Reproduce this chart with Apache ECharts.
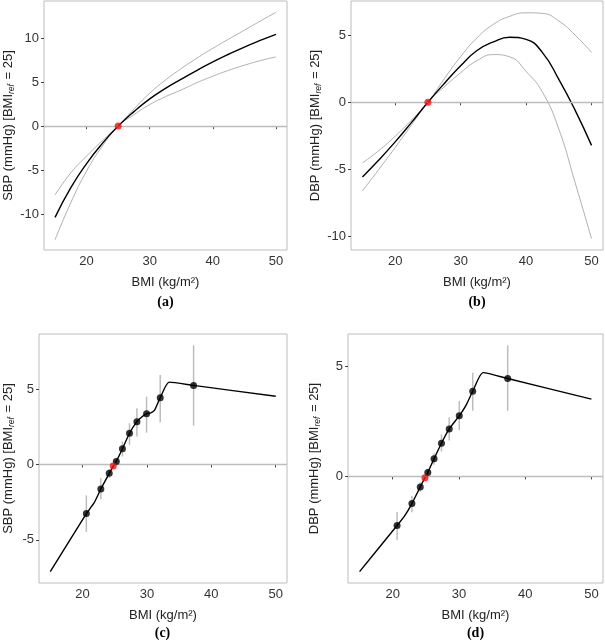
<!DOCTYPE html>
<html>
<head>
<meta charset="utf-8">
<script src="https://cdn.jsdelivr.net/npm/echarts@6/dist/echarts.min.js"></script>
<style>
  html, body { margin: 0; padding: 0; background: #fff; }
  #chart { width: 605px; height: 643px; }
</style>
</head>
<body>
<div id="chart"></div>
<script>
// BMI 取值点 (a)(b) 曲线
const bmiGrid = [15, 17.5, 20, 22.5, 25, 27.5, 30, 32.5, 35, 37.5, 40, 42.5, 45, 47.5, 50]

// (a) SBP 拟合曲线及置信带
const sbpFit   = [-10.39, -7.01, -4.26, -1.96, 0, 1.65, 3.1, 4.3, 5.35, 6.35, 7.3, 8.18, 9.0, 9.75, 10.45]
const sbpUpper = [-7.84, -5.31, -3.41, -1.66, 0, 1.95, 3.75, 5.25, 6.55, 7.75, 8.85, 9.9, 10.92, 11.95, 12.95]
const sbpLower = [-12.94, -8.71, -5.11, -2.26, 0, 1.3, 2.45, 3.35, 4.12, 4.95, 5.68, 6.35, 6.93, 7.45, 7.88]

// (b) DBP 拟合曲线及置信带
const dbpFit   = [-5.56, -4.3, -2.95, -1.5, 0, 1.4, 2.72, 3.85, 4.5, 4.84, 4.68, 3.7, 1.7, -0.6, -3.21]
const dbpUpper = [-4.52, -3.6, -2.53, -1.32, 0, 1.75, 3.4, 4.8, 5.8, 6.4, 6.66, 6.62, 6.05, 5.0, 3.71]
const dbpLower = [-6.6, -5.0, -3.37, -1.68, 0, 1.15, 2.2, 3.1, 3.55, 3.38, 2.3, 0.75, -2.0, -6.0, -10.16]

// (c) SBP 样条曲线
const sbpSplineX = [15, 20.6, 21.8, 22.85, 24.15, 24.8, 25.25, 26.2, 27.3, 28.45, 29.2, 29.95, 30.6, 31.2, 32.07, 33.47, 37.25, 50]
const sbpSplineY = [-7.11, -3.26, -2.55, -1.63, -0.59, -0.09, 0.2, 1.04, 2.07, 2.84, 3.15, 3.37, 3.42, 3.6, 4.43, 5.46, 5.24, 4.52]
// (c) 分组均值和误差线
const sbpGroupX  = [20.6, 22.85, 24.15, 25.25, 26.2, 27.3, 28.45, 29.95, 32.07, 37.25]
const sbpGroupY  = [-3.26, -1.63, -0.59, 0.2, 1.04, 2.07, 2.84, 3.37, 4.43, 5.24]
const sbpGroupLo = [-4.47, -2.33, -0.9, -0.05, 0.53, 1.3, 1.85, 2.11, 2.8, 2.58]
const sbpGroupHi = [-2.05, -0.9, -0.3, 0.45, 1.52, 2.73, 3.72, 4.49, 5.93, 7.9]
const sbpRef = [24.77, -0.1]

// (d) DBP 样条曲线
const dbpSplineX = [15, 20.66, 21.8, 22.9, 24.16, 24.87, 25.3, 26.24, 27.36, 28.53, 30.05, 31, 32.08, 33.65, 37.36, 50]
const dbpSplineY = [-4.34, -2.24, -1.8, -1.24, -0.48, -0.06, 0.18, 0.8, 1.51, 2.16, 2.76, 3.2, 3.88, 4.73, 4.46, 3.52]
// (d) 分组均值和误差线
const dbpGroupX  = [20.66, 22.9, 24.16, 25.3, 26.24, 27.36, 28.53, 30.05, 32.08, 37.36]
const dbpGroupY  = [-2.24, -1.24, -0.48, 0.18, 0.8, 1.51, 2.16, 2.76, 3.88, 4.46]
const dbpGroupLo = [-2.9, -1.63, -0.7, 0.02, 0.53, 1.13, 1.63, 2.11, 2.99, 2.99]
const dbpGroupHi = [-1.62, -0.9, -0.27, 0.35, 1.06, 1.92, 2.69, 3.44, 4.73, 5.97]
const dbpRef = [24.87, -0.06]

// 刻度
const xTicks = [20, 30, 40, 50]
const yTicksA = [-10, -5, 0, 5, 10]
const yTicksB = [-10, -5, 0, 5]
const yTicksC = [-5, 0, 5]
const yTicksD = [0, 5]
const panelLabels = ['(a)', '(b)', '(c)', '(d)']

const FONT = 'Liberation Sans'
const GREY_LINE = '#b0b0b0'

const pair = (xs, ys) => xs.map((x, i) => [x, ys[i]])

// 网格位置
const grids = [
  {left: 44, top: 1, width: 243, height: 249},
  {left: 351, top: 1, width: 252, height: 249},
  {left: 38, top: 334, width: 249, height: 249},
  {left: 348, top: 334, width: 255, height: 249}
]
const yRanges = [[-14.1, 14.24], [-11.0, 7.54], [-7.86, 8.65], [-4.86, 6.49]]
const yTicks = [yTicksA, yTicksB, yTicksC, yTicksD]
const yNames = ['SBP', 'DBP', 'SBP', 'DBP']
const yNameGap = [27, 20, 23, 26]

const makeXAxis = (i) => ({
  type: 'value',
  gridIndex: i,
  min: 13.25,
  max: 51.75,
  name: 'BMI (kg/m²)',
  nameLocation: 'middle',
  nameGap: 26,
  nameTextStyle: {fontFamily: FONT, fontSize: 13, color: '#222'},
  axisLine: {show: false},
  splitLine: {show: false},
  axisTick: {show: true, length: 3, customValues: xTicks, lineStyle: {color: '#444'}},
  axisLabel: {customValues: xTicks, margin: 5, fontFamily: FONT, fontSize: 13, color: '#333'}
})

const makeYAxis = (i) => ({
  type: 'value',
  gridIndex: i,
  min: yRanges[i][0],
  max: yRanges[i][1],
  name: yNames[i] + ' (mmHg) [BMI{s|ref} = 25]',
  nameLocation: 'middle',
  nameRotate: 90,
  nameGap: yNameGap[i],
  nameTextStyle: {
    fontFamily: FONT, fontSize: 13, color: '#222', lineHeight: 15,
    rich: {
      s: {fontFamily: FONT, fontSize: 8.5, fontStyle: 'italic', color: '#222', padding: [6, 1, 0, 0], lineHeight: 15}
    }
  },
  axisLine: {show: false},
  splitLine: {show: false},
  axisTick: {show: true, length: 3, customValues: yTicks[i], lineStyle: {color: '#444'}},
  axisLabel: {customValues: yTicks[i], margin: 5, fontFamily: FONT, fontSize: 13, color: '#333'}
})

// 零参考线
const zeroLine = {
  silent: true,
  symbol: 'none',
  label: {show: false},
  lineStyle: {color: '#bdbdbd', width: 1.3, type: 'solid'},
  data: [{yAxis: 0}]
}

const curve = (i, xs, ys, color, width, z, withZero, smooth) => {
  let s = {
    type: 'line',
    xAxisIndex: i,
    yAxisIndex: i,
    data: pair(xs, ys),
    smooth: smooth,
    showSymbol: false,
    silent: true,
    z: z,
    lineStyle: {color: color, width: width}
  }
  if (withZero) {
    s.markLine = zeroLine
  }
  return s
}

const errorBars = (i, xs, lo, hi) => ({
  type: 'custom',
  xAxisIndex: i,
  yAxisIndex: i,
  z: 3,
  silent: true,
  data: xs.map((x, k) => [x, lo[k], hi[k]]),
  encode: {x: 0, y: [1, 2]},
  renderItem: (params, api) => {
    let p1 = api.coord([api.value(0), api.value(1)])
    let p2 = api.coord([api.value(0), api.value(2)])
    return {
      type: 'line',
      shape: {x1: p1[0], y1: p1[1], x2: p2[0], y2: p2[1]},
      style: {stroke: '#bdbdbd', lineWidth: 1.5}
    }
  }
})

const dots = (i, data, color, z) => ({
  type: 'scatter',
  xAxisIndex: i,
  yAxisIndex: i,
  data: data,
  symbolSize: 7,
  silent: true,
  z: z,
  itemStyle: {color: color}
})

const series = [
  // (a)
  curve(0, bmiGrid, sbpUpper, GREY_LINE, 1, 2, true, 0.5),
  curve(0, bmiGrid, sbpLower, GREY_LINE, 1, 2, false, 0.5),
  curve(0, bmiGrid, sbpFit, '#000', 1.4, 4, false, 0.5),
  dots(0, [[25, 0]], '#f01010', 6),
  // (b)
  curve(1, bmiGrid, dbpUpper, GREY_LINE, 1, 2, true, 0.5),
  curve(1, bmiGrid, dbpLower, GREY_LINE, 1, 2, false, 0.5),
  curve(1, bmiGrid, dbpFit, '#000', 1.4, 4, false, 0.5),
  dots(1, [[25, 0]], '#f01010', 6),
  // (c)
  errorBars(2, sbpGroupX, sbpGroupLo, sbpGroupHi),
  curve(2, sbpSplineX, sbpSplineY, '#000', 1.4, 4, true, 0.2),
  dots(2, pair(sbpGroupX, sbpGroupY), '#000', 5),
  dots(2, [sbpRef], '#f01010', 6),
  // (d)
  errorBars(3, dbpGroupX, dbpGroupLo, dbpGroupHi),
  curve(3, dbpSplineX, dbpSplineY, '#000', 1.4, 4, true, 0.2),
  dots(3, pair(dbpGroupX, dbpGroupY), '#000', 5),
  dots(3, [dbpRef], '#f01010', 6)
]

const titleTops = [295, 295, 626, 626]

let chart = echarts.init(document.getElementById('chart'), null, {renderer: 'canvas'})
let option = {
  animation: false,
  backgroundColor: '#fff',
  title: grids.map((g, i) => ({
    text: panelLabels[i],
    left: g.left + g.width / 2,
    top: titleTops[i],
    textAlign: 'center',
    padding: 0,
    textStyle: {fontFamily: 'Liberation Serif', fontWeight: 'bold', fontSize: 14, color: '#000'}
  })),
  grid: grids.map(g => Object.assign({show: true, borderColor: '#bcbcbc', borderWidth: 1, containLabel: false}, g)),
  xAxis: grids.map((g, i) => makeXAxis(i)),
  yAxis: grids.map((g, i) => makeYAxis(i)),
  series: series
}
chart.setOption(option)
</script>
</body>
</html>
